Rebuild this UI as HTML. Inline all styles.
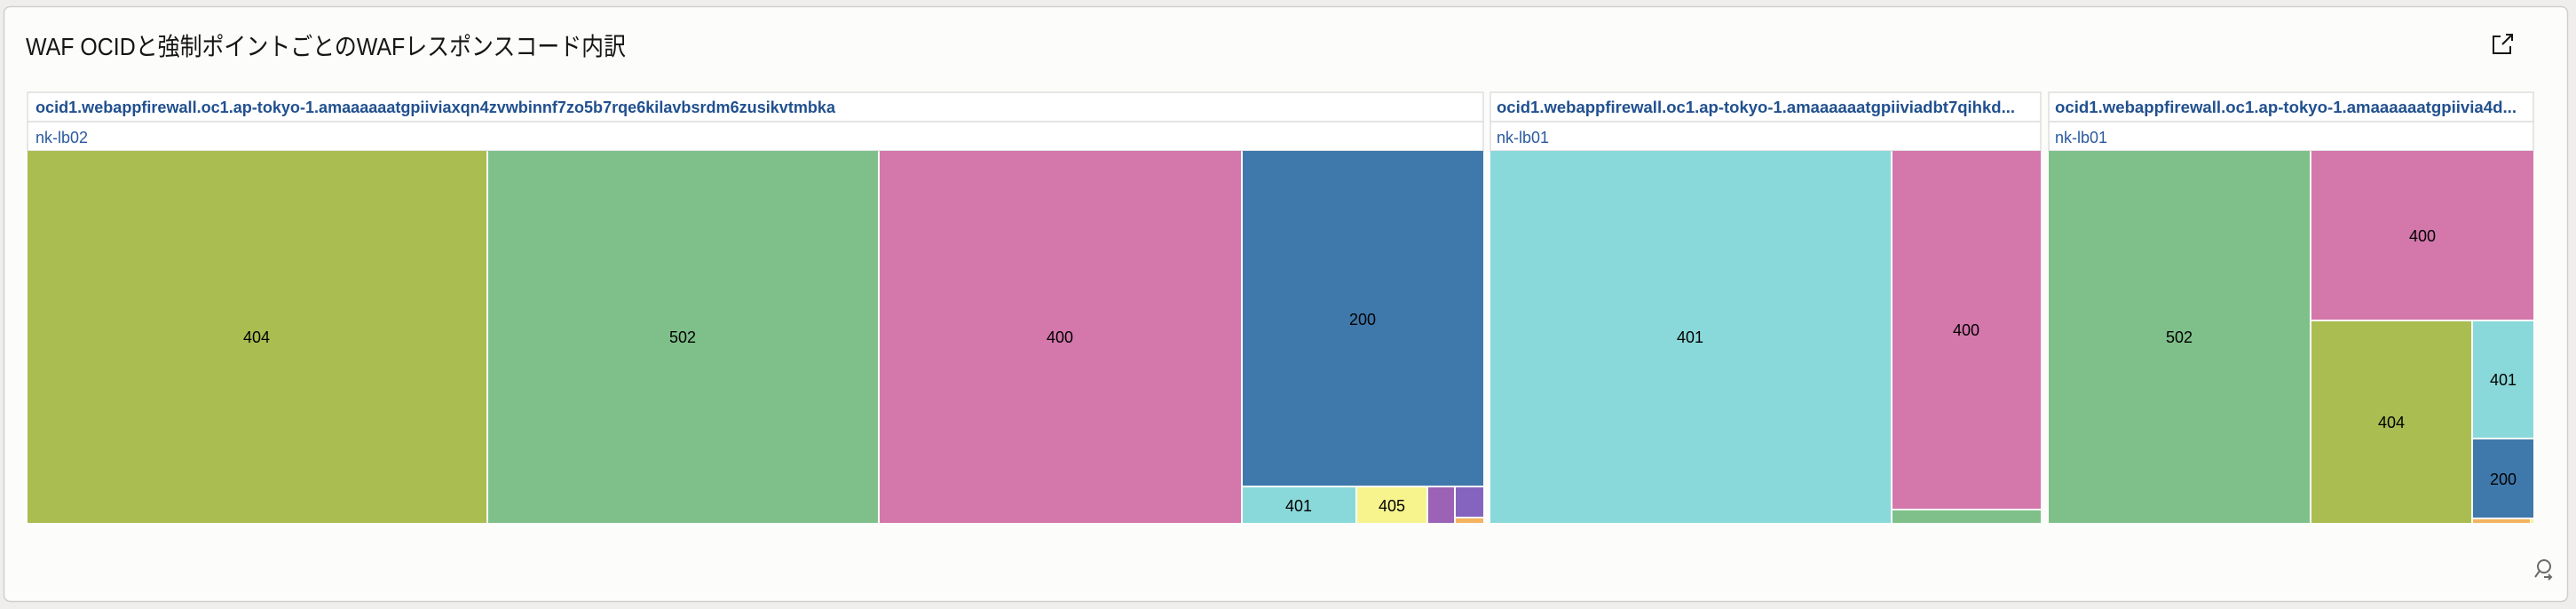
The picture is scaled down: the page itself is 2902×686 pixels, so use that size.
<!DOCTYPE html>
<html><head><meta charset="utf-8"><style>
html,body{margin:0;padding:0;width:2902px;height:686px;overflow:hidden;background:#efeeec;}
svg{display:block}
</style></head><body>
<svg width="2902" height="686" viewBox="0 0 2902 686" xmlns="http://www.w3.org/2000/svg" font-family="Liberation Sans, Noto Sans CJK JP, sans-serif">
<rect x="4.5" y="7.5" width="2888" height="670" rx="7" fill="#fcfcfa" stroke="#cfcfcd" stroke-width="1.5"/>
<text x="29" y="62" font-size="28" fill="#161513" textLength="676" lengthAdjust="spacingAndGlyphs" font-family="Liberation Sans, Noto Sans CJK JP, sans-serif">WAF OCIDと強制ポイントごとのWAFレスポンスコード内訳</text>
<!-- external icon -->
<g stroke="#161513" stroke-width="2" fill="none">
<path d="M817 41 H809 V60 H828 V52" transform="translate(2000,0)"/>
<path d="M2819 50 L2830 39 M2823 39 H2830 V46"/>
</g>
<!-- search icon -->
<g stroke="#6b6a68" stroke-width="2" fill="none">
<circle cx="2866" cy="638" r="7"/>
<path d="M2861 643 L2856 650 M2866 650 H2874 M2871 647 L2874 650 L2871 653"/>
</g>
<!-- headers -->
<g fill="#fff" stroke="#dedede" stroke-width="1.5">
<rect x="31" y="104" width="1640" height="33"/><rect x="31" y="137" width="1640" height="33"/>
<rect x="1679" y="104" width="620" height="33"/><rect x="1679" y="137" width="620" height="33"/>
<rect x="2308" y="104" width="546" height="33"/><rect x="2308" y="137" width="546" height="33"/>
</g>
<g font-size="18" font-weight="bold" fill="#21508f">
<text x="40" y="127" textLength="901" lengthAdjust="spacingAndGlyphs">ocid1.webappfirewall.oc1.ap-tokyo-1.amaaaaaatgpiiviaxqn4zvwbinnf7zo5b7rqe6kilavbsrdm6zusikvtmbka</text>
<text x="1686" y="127" textLength="584" lengthAdjust="spacingAndGlyphs">ocid1.webappfirewall.oc1.ap-tokyo-1.amaaaaaatgpiiviadbt7qihkd...</text>
<text x="2315" y="127" textLength="520" lengthAdjust="spacingAndGlyphs">ocid1.webappfirewall.oc1.ap-tokyo-1.amaaaaaatgpiivia4d...</text>
</g>
<g font-size="18" fill="#2a5a9c">
<text x="40" y="161">nk-lb02</text>
<text x="1686" y="161">nk-lb01</text>
<text x="2315" y="161">nk-lb01</text>
</g>
<!-- treemap -->
<g>
<rect x="31" y="170" width="517" height="419" fill="#a9bd51"/>
<rect x="550" y="170" width="439" height="419" fill="#7fc08a"/>
<rect x="991" y="170" width="407" height="419" fill="#d477ab"/>
<rect x="1400" y="170" width="271" height="377" fill="#3f79ab"/>
<rect x="1400" y="549" width="127" height="40" fill="#8ad9da"/>
<rect x="1529" y="549" width="78" height="40" fill="#f7f48e"/>
<rect x="1609" y="549" width="29" height="40" fill="#9b62b5"/>
<rect x="1640" y="549" width="31" height="33" fill="#8564c0"/>
<rect x="1640" y="584" width="31" height="5" fill="#f4b35f"/>
<rect x="1679" y="170" width="451" height="419" fill="#8ad9da"/>
<rect x="2132" y="170" width="167" height="403" fill="#d477ab"/>
<rect x="2132" y="575" width="167" height="14" fill="#7fc08a"/>
<rect x="2308" y="170" width="294" height="419" fill="#7fc08a"/>
<rect x="2604" y="170" width="250" height="190" fill="#d477ab"/>
<rect x="2604" y="362" width="180" height="227" fill="#a9bd51"/>
<rect x="2786" y="362" width="68" height="131" fill="#8ad9da"/>
<rect x="2786" y="495" width="68" height="88" fill="#3f79ab"/>
<rect x="2786" y="585" width="64" height="4" fill="#f4b35f"/>
<rect x="2851" y="585" width="3" height="4" fill="#f7f48e"/>
</g>
<g font-size="18" fill="#000" text-anchor="middle">
<text x="289" y="386">404</text>
<text x="769" y="386">502</text>
<text x="1194" y="386">400</text>
<text x="1535" y="366">200</text>
<text x="1463" y="576">401</text>
<text x="1568" y="576">405</text>
<text x="1904" y="386">401</text>
<text x="2215" y="378">400</text>
<text x="2455" y="386">502</text>
<text x="2729" y="272">400</text>
<text x="2694" y="482">404</text>
<text x="2820" y="434">401</text>
<text x="2820" y="546">200</text>
</g>
</svg>
</body></html>
